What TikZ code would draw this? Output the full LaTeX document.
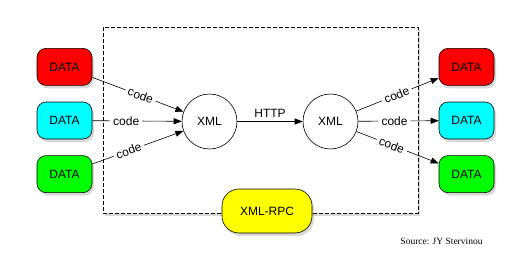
\documentclass[tikz,border=0pt]{standalone}
\usepackage{fontspec}
\setsansfont{Liberation Sans}
\newfontfamily\srcfont{Liberation Serif}
\usetikzlibrary{arrows.meta,positioning,shadows}
\definecolor{datared}{RGB}{255,0,0}
\definecolor{datacyan}{RGB}{0,255,255}
\definecolor{datagreen}{RGB}{0,255,0}
\definecolor{rpcyellow}{RGB}{255,255,0}
\tikzset{
  data/.style ={draw,rounded corners=9pt,minimum width=55pt,minimum height=37pt,inner sep=0pt,
                font=\sffamily\fontsize{12}{14}\selectfont,line width=0.6pt,
                drop shadow={shadow xshift=2pt,shadow yshift=-3pt,opacity=0.3}},
  reddata/.style  ={data,fill=datared},
  cyandata/.style ={data,fill=datacyan},
  greendata/.style={data,fill=datagreen},
  rpc/.style  ={data,fill=rpcyellow,minimum width=90pt,minimum height=44pt,rounded corners=17pt},
  xmlnode/.style={draw,circle,minimum size=55pt,inner sep=0pt,fill=white,line width=0.6pt,
                font=\sffamily\fontsize{12}{14}\selectfont},
  frame/.style={draw,dash pattern=on 4pt off 2pt,fill=white,inner sep=0pt,line width=0.6pt,
                drop shadow={shadow xshift=2pt,shadow yshift=-3pt,opacity=0.3}},
  flow/.style ={-{Triangle[length=8pt,width=6pt]},line width=0.6pt},
  lbl/.style  ={sloped,fill=white,inner sep=3pt,font=\sffamily\fontsize{12}{14}\selectfont},
}
\begin{document}
\begin{tikzpicture}[x=1pt,y=-1pt]
\useasboundingbox (0,0) rectangle (527,270);
\node[frame,minimum width=315pt,minimum height=186pt] (frame) at (260.5,120) {};
% sources
\node[cyandata] (inc) at (64.5,120.5) {DATA};
\node[reddata,above=16pt of inc] (inr) {DATA};
\node[greendata,below=16pt of inc] (ing) {DATA};
% XML
\node[xmlnode] (xin) at (209.5,121.5) {XML};
\node[xmlnode] (xout) at (330.5,121.5) {XML};
% targets
\node[cyandata] (outc) at (466.5,120.5) {DATA};
\node[reddata,above=16pt of outc] (outr) {DATA};
\node[greendata,below=16pt of outc] (outg) {DATA};
\node[rpc] (rpc) at (267,211) {XML-RPC};
\node[font=\srcfont\fontsize{9.5}{11}\selectfont] (src) at (441.5,241) {Source: JY Stervinou};
\draw[flow] (inr) -- node[lbl,pos=0.53] {code} (xin);
\draw[flow] (inc) -- node[lbl,pos=0.38] {code} (xin);
\draw[flow] (ing) -- node[lbl,pos=0.4] {code} (xin);
\draw[flow] (xin) -- node[above,font=\sffamily\fontsize{12}{14}\selectfont] {HTTP} (xout);
\draw[flow] (xout) -- node[lbl,pos=0.49] {code} (outr);
\draw[flow] (xout) -- node[lbl,pos=0.45] {code} (outc);
\draw[flow] (xout) -- node[lbl,pos=0.43] {code} (outg);
\end{tikzpicture}
\end{document}
